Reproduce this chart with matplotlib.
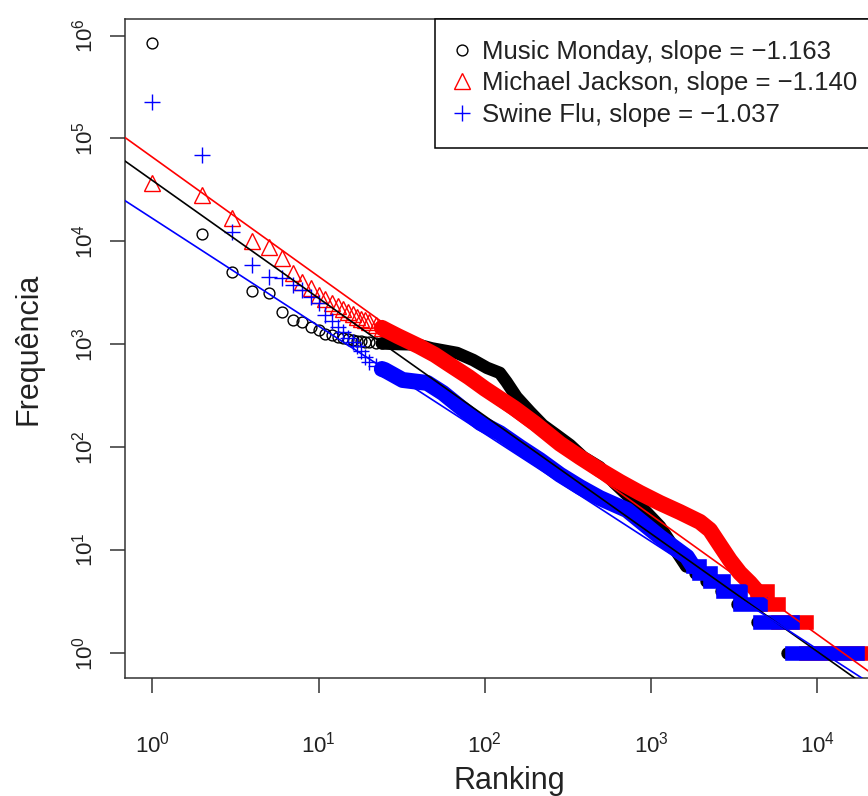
import numpy as np
import matplotlib.pyplot as plt
from matplotlib.lines import Line2D

plt.rcParams['font.family'] = ['Liberation Sans', 'DejaVu Sans']
plt.rcParams['mathtext.fontset'] = 'custom'
plt.rcParams['mathtext.rm'] = 'Liberation Sans'

# Music Monday (black circles): rank / frequency
mm_rank = [1, 2, 3, 4, 5, 6, 7, 8, 9, 10, 11, 12, 13, 14, 15, 16, 17, 18, 19, 20, 22, 24,
           26, 30, 35, 40, 48, 68, 85, 103, 123, 135, 155, 187, 223, 270, 325, 390, 490,
           600, 750, 900, 1129, 1400]
mm_freq = [850000, 11700, 5080, 3320, 3170, 2075, 1720, 1660, 1480, 1377, 1260, 1230, 1175,
           1150, 1120, 1100, 1085, 1070, 1060, 1050, 1035, 1020,
           1015, 1005, 1000, 985, 912, 823, 703, 590, 527, 430, 307, 220, 164, 131, 105, 80, 64,
           45, 32, 25, 17, 10]
mm_tail_freq = [7, 6, 5, 4, 3, 2, 1]
mm_tail_start = [1620, 1835, 2140, 2630, 3280, 4330, 6560]
mm_last_rank = 19000

# Michael Jackson (red triangles)
mj_rank = [1, 2, 3, 4, 5, 6, 7, 8, 9, 10, 11, 12, 13, 14, 15, 16, 17, 18, 19, 20, 22, 24,
           26, 30, 40, 50, 60, 80, 100, 150, 200, 283, 373, 492, 649, 855, 1129, 1489, 1963,
           2254, 2588, 2972, 3412, 3925]
mj_freq = [36700, 28200, 16760, 10150, 8890, 6850, 4900, 4060, 3500, 3015, 2750, 2510, 2340,
           2190, 2040, 1950, 1860, 1780, 1720, 1660, 1550, 1445,
           1350, 1200, 960, 790, 650, 480, 370, 240, 170, 108, 80, 60, 46, 36, 28.7, 23.4, 18.8,
           15.7, 11.2, 8, 6, 4.8]
mj_tail_freq = [4, 3, 2, 1]
mj_tail_start = [4330, 4960, 5800, 8500]
mj_last_rank = 24000

# Swine Flu (blue plus)
sf_rank = [1, 2, 3, 4, 5, 6, 7, 8, 9, 10, 11, 12, 13, 14, 15, 16, 17, 18, 19, 20, 22, 24,
           25, 32, 45, 56, 71, 94, 123, 163, 214, 283, 373, 492, 715, 1129, 1640]
sf_freq = [228000, 69000, 12400, 5900, 4540, 4400, 3770, 3370, 2900, 2500, 1930, 1700, 1480,
           1320, 1150, 1050, 955, 870, 760, 676, 617, 575,
           562, 450, 421, 336, 246, 172, 137, 100, 75, 54, 41, 32, 24.5, 13.4, 8.6]
sf_tail_freq = [7, 6, 5, 4, 3, 2, 1]
sf_tail_start = [1780, 1950, 2250, 2700, 3410, 4510, 7030]
sf_last_rank = 17300

# fitted power laws (log10 intercept, slope) as drawn
fit_intercept = [4.593, 4.819, 4.224]
fit_slope = [-1.145, -1.160, -1.047]

labels = ['Music Monday, slope = \u22121.163',
          'Michael Jackson, slope = \u22121.140',
          'Swine Flu, slope = \u22121.037']
colors = ['black', '#ff0000', '#0000ff']

fig = plt.figure(figsize=(8.68, 7.96), dpi=100)
ax = fig.add_axes([125 / 868, (796 - 678) / 796, 768 / 868, (678 - 19) / 796])
ax.set_xscale('log')
ax.set_yscale('log')

series = [
    (mm_rank, mm_freq, mm_tail_freq, mm_tail_start, mm_last_rank,
     dict(marker='o', ms=7.8, mew=1.0, mfc='none'), 9.0, 'round'),
    (mj_rank, mj_freq, mj_tail_freq, mj_tail_start, mj_last_rank,
     dict(marker='^', ms=11, mew=1.0, mfc='none'), 11.5, 'projecting'),
    (sf_rank, sf_freq, sf_tail_freq, sf_tail_start, sf_last_rank,
     dict(marker='+', ms=11, mew=1.0), 11.5, 'projecting'),
]

for i, (r, f, tf, ts, last, mk, bw, cap) in enumerate(series):
    c = colors[i]
    z = 2 + i
    r = np.array(r, dtype=float)
    f = np.array(f, dtype=float)
    head = r <= 24
    ax.plot(r[head], f[head], ls='none', color=c, zorder=z, **mk)
    # dense part: overlapping markers form a solid band
    band = r >= 24
    bx = np.append(r[band], ts[0])
    by = np.append(f[band], tf[0])
    ax.plot(bx, by, color=c, lw=bw, solid_capstyle='round', solid_joinstyle='round', zorder=z)
    # tail: runs of equal frequency
    ends = np.append(ts[1:], last)
    hl = ax.hlines(tf, ts, ends, colors=c, lw=min(bw, 10.5), zorder=z)
    hl.set_capstyle(cap)

for b, s, c in zip(fit_intercept, fit_slope, colors):
    ax.axline((1, 10 ** b), (10, 10 ** (b + s)), color=c, lw=1.2, zorder=6)

ax.set_xlim(10 ** -0.164, 10 ** 4.454)
ax.set_ylim(10 ** -0.243, 10 ** 6.161)
ax.set_xticks([1, 10, 100, 1000, 10000])
ax.set_yticks([1, 10, 100, 1000, 10000, 100000, 1000000])
ax.minorticks_off()

for sp in ax.spines.values():
    sp.set_linewidth(1.1)
    sp.set_color('#333333')
ax.tick_params(direction='out', length=10.8, width=1.1, color='#333333', labelsize=16,
               labelcolor='#222222')
ax.tick_params(axis='x', pad=28)
ax.tick_params(axis='y', pad=9, labelrotation=90)
for t in ax.get_yticklabels():
    t.set_va('center')

ax.set_xlabel('Ranking', fontsize=22, color='#222222', labelpad=6)
ax.set_ylabel('Frequência', fontsize=22, color='#222222', labelpad=20)

handles = [Line2D([], [], color=colors[i], ls='none', **series[i][5]) for i in range(3)]
leg = ax.legend(handles, labels, loc='upper left', bbox_to_anchor=(435 / 868, 1 - 19 / 796),
                bbox_transform=fig.transFigure, borderaxespad=0, fontsize=18.5,
                frameon=True, fancybox=False, edgecolor='black', framealpha=1,
                borderpad=0.8, handlelength=0.5, handletextpad=0.54, labelspacing=0.3)
leg.get_frame().set_linewidth(1.1)
for t in leg.get_texts():
    t.set_color('#222222')

fig.savefig('out.png', dpi=100)
